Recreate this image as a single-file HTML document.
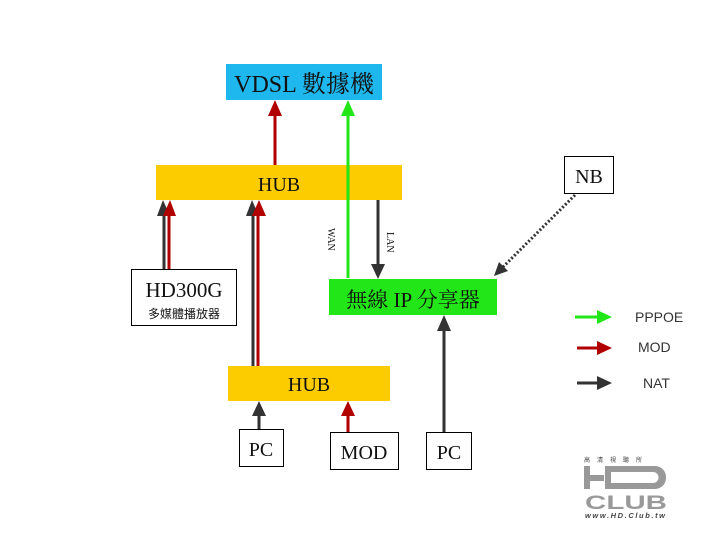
<!DOCTYPE html>
<html><head><meta charset="utf-8"><style>
html,body{margin:0;padding:0;background:#fff;width:720px;height:540px;overflow:hidden}
svg{display:block}
.s{font-family:"Liberation Serif","Noto Serif CJK SC","Noto Sans CJK TC",serif;fill:#111}
.a{font-family:"Liberation Sans",sans-serif;fill:#333}
</style></head><body>
<svg width="720" height="540" viewBox="0 0 720 540" xmlns="http://www.w3.org/2000/svg">
<!-- boxes -->
<rect x="226" y="64" width="156" height="36" fill="#1fb8ee"/>
<text x="304" y="92" class="s" font-size="24" text-anchor="middle">VDSL 數據機</text>
<rect x="156" y="165" width="246" height="35" fill="#fccc00"/>
<text x="279" y="191" class="s" font-size="20" text-anchor="middle">HUB</text>
<rect x="131.5" y="269.5" width="105" height="56" fill="#fff" stroke="#000"/>
<text x="184" y="297" class="s" font-size="21" text-anchor="middle">HD300G</text>
<text x="184" y="318" font-family="'Noto Sans CJK TC',sans-serif" font-size="12" fill="#111" text-anchor="middle">多媒體播放器</text>
<rect x="329" y="279" width="168" height="36" fill="#22e617"/>
<text x="413" y="307" class="s" font-size="21" text-anchor="middle">無線 IP 分享器</text>
<rect x="564.5" y="156.5" width="49" height="37" fill="#fff" stroke="#000"/>
<text x="589" y="183" class="s" font-size="20" text-anchor="middle">NB</text>
<rect x="228" y="366" width="162" height="35" fill="#fccc00"/>
<text x="309" y="391" class="s" font-size="20" text-anchor="middle">HUB</text>
<rect x="239.5" y="429.5" width="44" height="37" fill="#fff" stroke="#000"/>
<text x="261" y="456" class="s" font-size="20" text-anchor="middle">PC</text>
<rect x="330.5" y="432.5" width="68" height="37" fill="#fff" stroke="#000"/>
<text x="364" y="459" class="s" font-size="20" text-anchor="middle">MOD</text>
<rect x="426.5" y="432.5" width="45" height="37" fill="#fff" stroke="#000"/>
<text x="449" y="459" class="s" font-size="20" text-anchor="middle">PC</text>
<!-- arrows -->
<g stroke-width="3" fill="none">
<line x1="275" y1="165" x2="275" y2="115" stroke="#b00000"/>
<line x1="348" y1="278" x2="348" y2="115" stroke="#22e617"/>
<line x1="378" y1="200" x2="378" y2="265" stroke="#333"/>
<line x1="164" y1="269" x2="164" y2="214" stroke="#333"/>
<line x1="169" y1="269" x2="169" y2="214" stroke="#b00000"/>
<line x1="253" y1="366" x2="253" y2="214" stroke="#333"/>
<line x1="258" y1="366" x2="258" y2="214" stroke="#b00000"/>
<line x1="259" y1="429" x2="259" y2="414" stroke="#333"/>
<line x1="348" y1="432" x2="348" y2="414" stroke="#b00000"/>
<line x1="444" y1="432" x2="444" y2="330" stroke="#333"/>
<line x1="575" y1="195" x2="503" y2="267" stroke="#333" stroke-dasharray="2 2"/>
<line x1="575" y1="317" x2="598" y2="317" stroke="#22e617"/>
<line x1="577" y1="348" x2="598" y2="348" stroke="#b00000"/>
<line x1="577" y1="383" x2="598" y2="383" stroke="#333"/>
</g>
<g stroke="none">
<polygon points="268,116 282,116 275,100" fill="#b00000"/>
<polygon points="341,116 355,116 348,100" fill="#22e617"/>
<polygon points="371,264 385,264 378,279" fill="#333"/>
<polygon points="157,216 170,216 163,200" fill="#333"/>
<polygon points="163,216 176,216 170,200" fill="#b00000"/>
<polygon points="246,216 259,216 252,200" fill="#333"/>
<polygon points="252,216 266,216 259,200" fill="#b00000"/>
<polygon points="252,416 266,416 259,401" fill="#333"/>
<polygon points="341,416 355,416 348,401" fill="#b00000"/>
<polygon points="437,331 451,331 444,315" fill="#333"/>
<polygon points="494,276 499,262 508,271" fill="#333"/>
<polygon points="597,310 597,324 612,317" fill="#22e617"/>
<polygon points="597,341 597,355 612,348" fill="#b00000"/>
<polygon points="597,376 597,390 612,383" fill="#333"/>
</g>
<text transform="translate(328,228) rotate(90)" class="s" font-size="10">WAN</text>
<text transform="translate(387,232) rotate(90)" class="s" font-size="10">LAN</text>
<text x="635" y="322" class="a" font-size="14">PPPOE</text>
<text x="638" y="352" class="a" font-size="14">MOD</text>
<text x="643" y="388" class="a" font-size="14">NAT</text>
<!-- logo -->
<g fill="#999">
<text x="584" y="462" font-size="6" fill="#444" font-family="'Noto Sans CJK TC',sans-serif" letter-spacing="7">高清視聽所</text>
<rect x="584" y="466" width="6" height="23"/><rect x="590" y="475" width="14" height="6"/>
<path d="M605 466 h50 a11 11 0 0 1 11 11 v1 a11 11 0 0 1 -11 11 h-50 z M611 472 v11 h42 a5 5 0 0 0 0 -11 z" fill-rule="evenodd"/>
<text x="585" y="509" font-family="'Liberation Sans',sans-serif" font-weight="bold" font-size="19" fill="#999" textLength="82" lengthAdjust="spacingAndGlyphs">CLUB</text>
<text x="585" y="518" font-family="'Liberation Sans',sans-serif" font-style="italic" font-weight="bold" font-size="7.5" fill="#444" textLength="80">www.HD.Club.tw</text>
</g>
</svg>
</body></html>
